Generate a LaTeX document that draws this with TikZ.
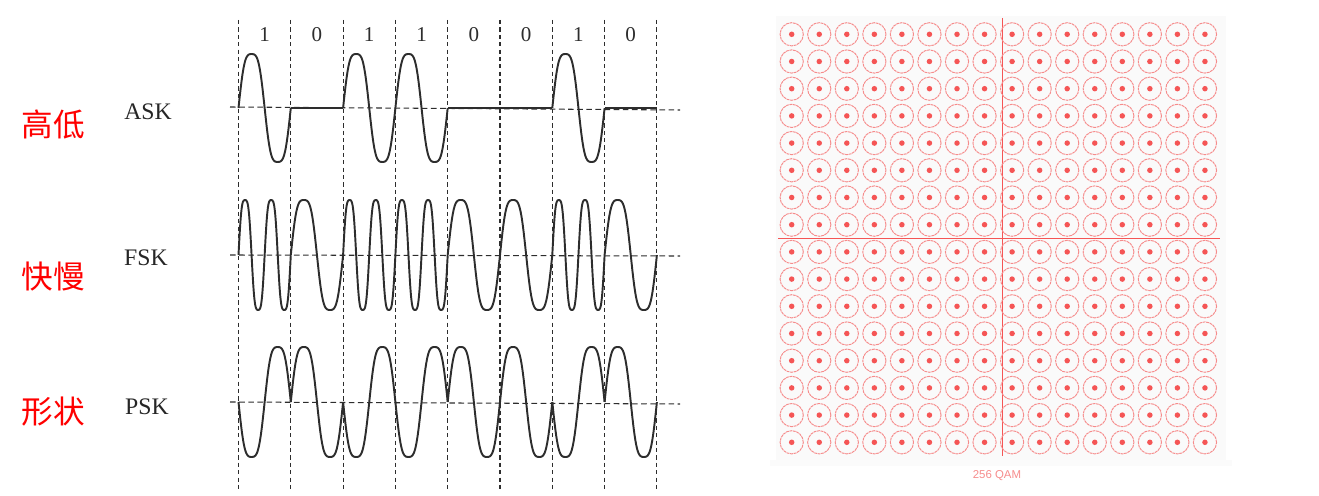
\documentclass[tikz,border=0pt]{standalone}
\usepackage{fontspec}
\setmainfont{Liberation Serif}
\newfontfamily\cjk{Noto Sans CJK SC}
\newfontfamily\qamfont{Liberation Sans}
\usetikzlibrary{positioning}
\definecolor{wavegray}{RGB}{45,45,45}
\definecolor{qamred}{RGB}{245,85,85}
\definecolor{qamlight}{RGB}{246,140,140}

\begin{document}
\begin{tikzpicture}[
  x=0.02cm, y=-0.02cm,
  wave/.style={wavegray, line width=1.1pt, line join=round},
  grid/.style={wavegray, line width=0.6pt, dash pattern=on 2.4pt off 1.8pt},
  axis/.style={wavegray, line width=0.6pt, dash pattern=on 3.2pt off 2pt},
  bit/.style={font=\fontsize{12}{12}\selectfont, text=wavegray},
  kind/.style={font=\fontsize{13.5}{14}\selectfont, text=black!85},
  zh/.style={font=\cjk\fontsize{18}{18}\selectfont, text=red},
  ring/.style={qamlight, line width=0.55pt, dash pattern=on 1.6pt off 0.4pt},
  dot/.style={fill=qamred, draw=none}
]
\useasboundingbox (0,0) rectangle (1319,496);
\def\xa{238.5} % left edge of the first bit
\def\w{52.3}   % width of one bit
% rounded sine, a little squarer than sin
\tikzset{declare function={rs(\t)=(sin(\t)+0.1*sin(3*\t))/0.9;}}

% --- bit slots ---
\foreach \b [count=\i from 0] in {1,0,1,1,0,0,1,0} {
  \node[bit] (b\i) at ({\xa+\w*(\i+0.5)},35) {\b};
}
\foreach \i in {0,...,8} {
  \draw[grid] ({\xa+\w*\i},20) -- ({\xa+\w*\i},490);
}

% --- row labels ---
\node[zh] (gao) at (53,125) {高低};
\node[zh] (kuai) at (53,277) {快慢};
\node[zh] (xing) at (53,412) {形状};
\node[kind] (ask) at (148,112) {ASK};
\node[kind] (fsk) at (146,258) {FSK};
\node[kind] (psk) at (147,407) {PSK};

% --- ASK ---
\draw[axis] (230,107) -- (680,110);
\foreach \b [count=\i from 0] in {1,0,1,1,0,0,1,0} {
  \ifnum\b=1
    \draw[wave] plot[domain=0:1, samples=41, smooth]
      ({\xa+\w*(\i+\x)}, {108-54*rs(360*\x)});
  \else
    \draw[wave] ({\xa+\w*\i},108) -- ({\xa+\w*(\i+1)},108);
  \fi
}

% --- FSK ---
\draw[axis] (230,255) -- (680,256);
\foreach \b [count=\i from 0] in {1,0,1,1,0,0,1,0} {
  \draw[wave] plot[domain=0:1, samples=61, smooth]
    ({\xa+\w*(\i+\x)}, {255-55*rs(360*(\b+1)*\x)});
}

% --- PSK ---
\draw[axis] (230,402) -- (680,404);
\foreach \b [count=\i from 0] in {1,0,1,1,0,0,1,0} {
  \ifnum\b=1
    \def\sg{1}
  \else
    \def\sg{-1}
  \fi
  \draw[wave] plot[domain=0:1, samples=41, smooth]
    ({\xa+\w*(\i+\x)}, {402+\sg*55*rs(360*\x)});
}

% --- 256 QAM ---
\fill[black!2] (776,16) rectangle (1226,460);
\fill[black!1.5] (770,460) rectangle (1232,466);
\draw[qamred, line width=0.8pt] (1002.5,18) -- (1002.5,456);
\draw[qamred, line width=0.8pt] (778,238.3) -- (1220,238.3);
\foreach \r in {0,...,15} {
  \foreach \c in {0,...,15} {
    \draw[ring] ({791.7+27.55*\c},{34.3+27.2*\r}) circle[radius=0.232cm];
    \fill[dot] ({791.7+27.55*\c},{34.3+27.2*\r}) circle[radius=0.055cm];
  }
}
\node[font=\qamfont\fontsize{6.5}{7}\selectfont, text=qamlight] (qam) at (997,476) {256 QAM};

\end{tikzpicture}
\end{document}
